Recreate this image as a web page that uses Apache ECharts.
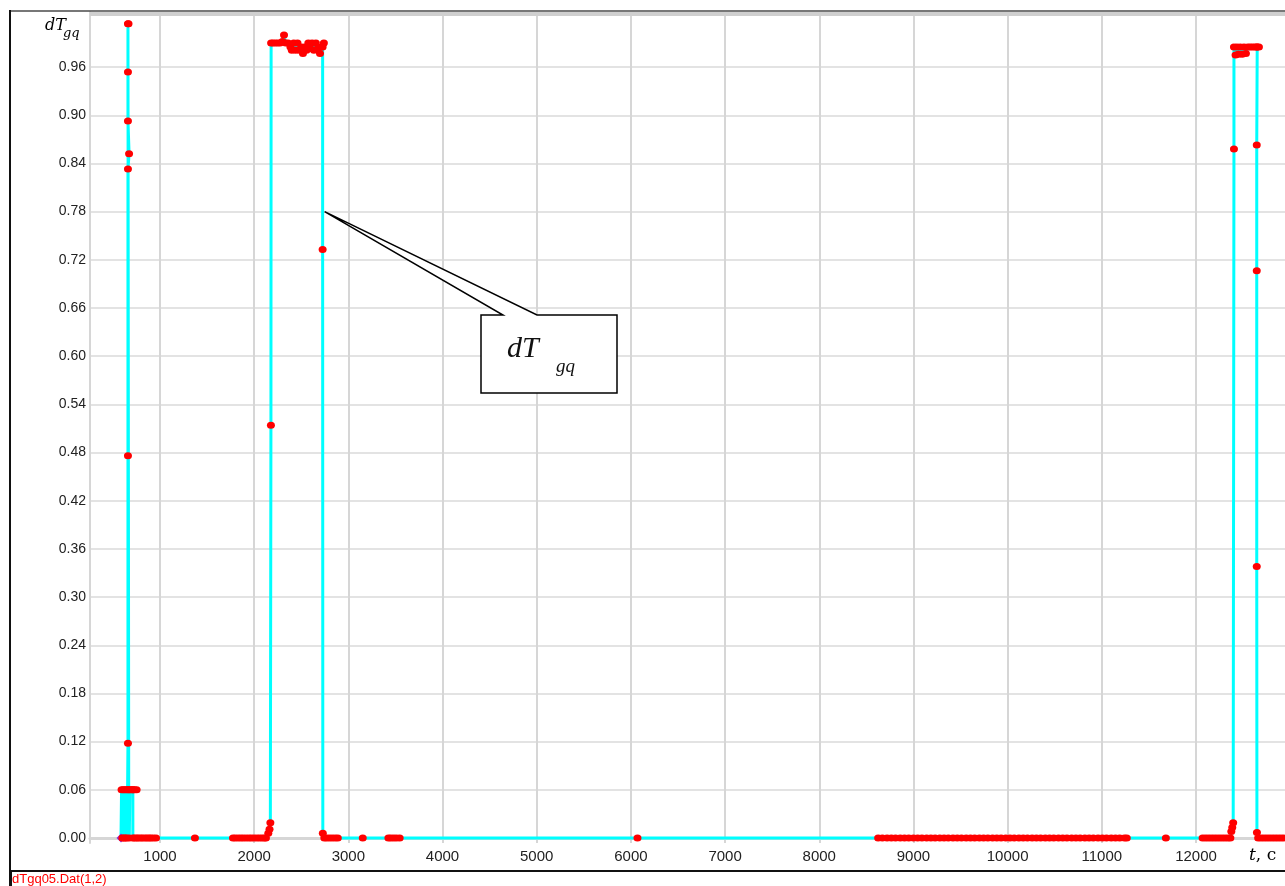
<!DOCTYPE html>
<html>
<head>
<meta charset="utf-8">
<script src="https://cdn.jsdelivr.net/npm/echarts@6/dist/echarts.min.js"></script>
<style>
  html, body { margin: 0; padding: 0; background: #ffffff; }
  #chart { width: 1285px; height: 886px; }
</style>
</head>
<body>
<div id="chart"></div>
<script>
// dTgq05.Dat, columns 1 (t, s) and 2 (dTgq)

// Start-up burst
const burst1T = [586, 592, 600, 608, 616, 624, 632, 640, 648, 656,
  660, 660, 660, 672, 660, 660, 660,
  666, 668, 674, 680, 695, 712, 730, 752,
  712, 712,
  730, 752, 770, 795, 815, 840, 862, 885, 905, 930, 958];
const burst1V = [0, 0.06, 0, 0.06, 0, 0.06, 0, 0.06, 0, 0.06,
  0.118, 0.476, 0.833, 0.852, 0.893, 0.954, 1.014,
  1.014, 0.06, 0, 0.06, 0.06, 0.06, 0.06, 0.06,
  0.06, 0,
  0, 0, 0, 0, 0, 0, 0, 0, 0, 0, 0];

// Second pulse (about 2180 .. 2727 s)
const pulse2T = [1371,
  1775, 1800, 1830, 1858, 1885, 1915, 1945, 1972, 2000, 2030, 2058, 2085, 2110, 2125,
  2150, 2163, 2172,
  2178,
  2180, 2200, 2225, 2250, 2275, 2300, 2317, 2335, 2360, 2385, 2400, 2420, 2440, 2460,
  2480, 2500, 2518, 2535, 2555, 2575, 2595, 2615, 2635, 2655, 2680, 2699, 2715, 2740,
  2727, 2727, 2729,
  2745, 2770, 2800, 2830, 2860, 2888];
const pulse2V = [0,
  0, 0, 0, 0, 0, 0, 0, 0, 0, 0, 0, 0, 0, 0,
  0.006, 0.011, 0.019,
  0.514,
  0.99, 0.99, 0.99, 0.99, 0.99, 0.992, 1.0, 0.99, 0.99, 0.985, 0.981, 0.99, 0.981, 0.99,
  0.981, 0.985, 0.977, 0.985, 0.981, 0.99, 0.983, 0.99, 0.981, 0.99, 0.984, 0.977, 0.985, 0.99,
  0.985, 0.733, 0.006,
  0, 0, 0, 0, 0, 0];

// Quiet interval with isolated samples
const quietT = [3153, 3425, 3450, 3480, 3510, 3545, 6070];
const quietV = [0, 0, 0, 0, 0, 0, 0];

// Long sampled run at zero
const runT = [8625, 8670, 8720, 8765, 8810, 8860, 8905, 8950, 9000, 9045, 9090, 9140,
  9185, 9230, 9280, 9325, 9370, 9420, 9465, 9510, 9560, 9605, 9650, 9700, 9745, 9790,
  9840, 9885, 9930, 9980, 10025, 10070, 10120, 10165, 10210, 10260, 10305, 10350, 10400,
  10445, 10490, 10540, 10585, 10630, 10680, 10725, 10770, 10820, 10865, 10910, 10960,
  11005, 11050, 11100, 11145, 11190, 11240, 11265, 11680];
const runV = [0, 0, 0, 0, 0, 0, 0, 0, 0, 0, 0, 0,
  0, 0, 0, 0, 0, 0, 0, 0, 0, 0, 0, 0, 0, 0,
  0, 0, 0, 0, 0, 0, 0, 0, 0, 0, 0, 0, 0,
  0, 0, 0, 0, 0, 0, 0, 0, 0, 0, 0, 0,
  0, 0, 0, 0, 0, 0, 0, 0];

// Final pulse (about 12403 .. 12645 s)
const pulse3T = [12070, 12100, 12130, 12160, 12190, 12220, 12250, 12280, 12310, 12340, 12365,
  12375, 12385, 12395,
  12403, 12403,
  12420, 12435, 12450, 12470, 12490, 12510, 12530, 12550, 12575, 12600, 12625, 12650, 12668,
  12645, 12645, 12645, 12645, 12647,
  12660, 12690, 12720, 12750, 12780, 12810, 12840, 12870, 12900, 12930, 12960];
const pulse3V = [0, 0, 0, 0, 0, 0, 0, 0, 0, 0, 0,
  0.008, 0.013, 0.019,
  0.858, 0.985,
  0.975, 0.985, 0.976, 0.985, 0.976, 0.985, 0.977, 0.985, 0.985, 0.985, 0.985, 0.985, 0.985,
  0.985, 0.863, 0.7065, 0.338, 0.007,
  0, 0, 0, 0, 0, 0, 0, 0, 0, 0, 0];

// Axis ticks
const xTicks = [1000, 2000, 3000, 4000, 5000, 6000, 7000, 8000, 9000, 10000, 11000, 12000];
const yTicks = [0, 0.06, 0.12, 0.18, 0.24, 0.30, 0.36, 0.42, 0.48, 0.54, 0.60, 0.66, 0.72, 0.78, 0.84, 0.90, 0.96];

const tAll = [].concat(burst1T, pulse2T, quietT, runT, pulse3T);
const vAll = [].concat(burst1V, pulse2V, quietV, runV, pulse3V);
const seriesData = tAll.map(function (t, i) {
  if (i === 0) {
    return { value: [t, vAll[i]], symbol: 'diamond', symbolSize: 9, itemStyle: { color: '#8a2be2' } };
  }
  return [t, vAll[i]];
});

const chart = echarts.init(document.getElementById('chart'), null, { renderer: 'canvas' });

const option = {
  animation: false,
  backgroundColor: '#ffffff',
  grid: { left: 90, right: 0, top: 12, bottom: 43, containLabel: false },
  xAxis: {
    type: 'value',
    min: 257,
    max: 12945,
    axisLine: { show: true, lineStyle: { color: '#d6d6d6', width: 3 } },
    axisTick: { show: false, customValues: xTicks },
    axisLabel: {
      customValues: xTicks,
      formatter: function (v) { return String(v); },
      color: '#222', fontFamily: 'Liberation Sans, Arial, sans-serif', fontSize: 15, margin: 6
    },
    splitLine: { show: true, lineStyle: { color: '#d6d6d6', width: 2 } }
  },
  yAxis: {
    type: 'value',
    min: -0.00623,
    max: 1.0286,
    axisLine: { show: true, lineStyle: { color: '#d6d6d6', width: 2 } },
    axisTick: { show: false, customValues: yTicks },
    axisLabel: {
      customValues: yTicks,
      formatter: function (v) { return v.toFixed(2); },
      color: '#222', fontFamily: 'Liberation Sans, Arial, sans-serif', fontSize: 14, margin: 4
    },
    splitLine: { show: true, lineStyle: { color: '#e3e3e3', width: 2 } }
  },
  series: [{
    type: 'line',
    data: seriesData,
    clip: false,
    showAllSymbol: true,
    symbol: 'circle',
    symbolSize: [8, 7],
    itemStyle: { color: '#ff0000' },
    lineStyle: { color: '#00ffff', width: 3 },
    z: 3
  }]
};
chart.setOption(option);

// Callout pointing at the falling edge of the second pulse
const tip = chart.convertToPixel({ gridIndex: 0 }, [2727, 0.78]);
const tipX = tip[0] + 2, tipY = tip[1];

chart.setOption({
  graphic: [
    // frame
    { type: 'rect', z: 50, shape: { x: 90, y: 12, width: 1195, height: 4 }, style: { fill: '#cfcfcf' } },
    { type: 'line', z: 51, shape: { x1: 9, y1: 11, x2: 1285, y2: 11 }, style: { stroke: '#4a4a4a', lineWidth: 1.5 } },
    { type: 'line', z: 51, shape: { x1: 10, y1: 10, x2: 10, y2: 872 }, style: { stroke: '#111', lineWidth: 2 } },
    { type: 'line', z: 51, shape: { x1: 9, y1: 871, x2: 1285, y2: 871 }, style: { stroke: '#111', lineWidth: 2 } },
    { type: 'rect', z: 51, shape: { x: 9, y: 872, width: 3, height: 14 }, style: { fill: '#111' } },
    { type: 'text', z: 51, left: 12, top: 873,
      style: { text: 'dTgq05.Dat(1,2)', fill: '#ff0000', font: '13px "Liberation Sans", Arial, sans-serif' } },
    // y-axis title
    { type: 'text', z: 51, left: 45, top: 18,
      style: { text: 'dT', fill: '#000', font: 'italic 16px "DejaVu Serif", serif' } },
    { type: 'text', z: 51, left: 63, top: 27,
      style: { text: 'gq', fill: '#000', font: 'italic 13px "DejaVu Serif", serif' } },
    // x-axis title
    { type: 'rect', z: 50, shape: { x: 1244, y: 846, width: 41, height: 22 }, style: { fill: '#ffffff' } },
    { type: 'text', z: 51, left: 1249, top: 847,
      style: {
        text: '{i|t}{n|, c}',
        rich: {
          i: { fontFamily: 'DejaVu Serif', fontStyle: 'italic', fontSize: 17, fill: '#000' },
          n: { fontFamily: 'DejaVu Serif', fontSize: 17, fill: '#000' }
        }
      } },
    // callout
    { type: 'polygon', z: 60,
      shape: { points: [[481, 315], [503, 315], [tipX, tipY], [537, 315], [617, 315], [617, 393], [481, 393]] },
      style: { fill: '#ffffff', stroke: '#000', lineWidth: 1.5 } },
    { type: 'text', z: 61, left: 507, top: 334,
      style: { text: 'dT', fill: '#111', font: 'italic 30px "Liberation Serif", "Times New Roman", serif' } },
    { type: 'text', z: 61, left: 556, top: 357,
      style: { text: 'gq', fill: '#111', font: 'italic 19px "Liberation Serif", "Times New Roman", serif' } }
  ]
});
</script>
</body>
</html>
